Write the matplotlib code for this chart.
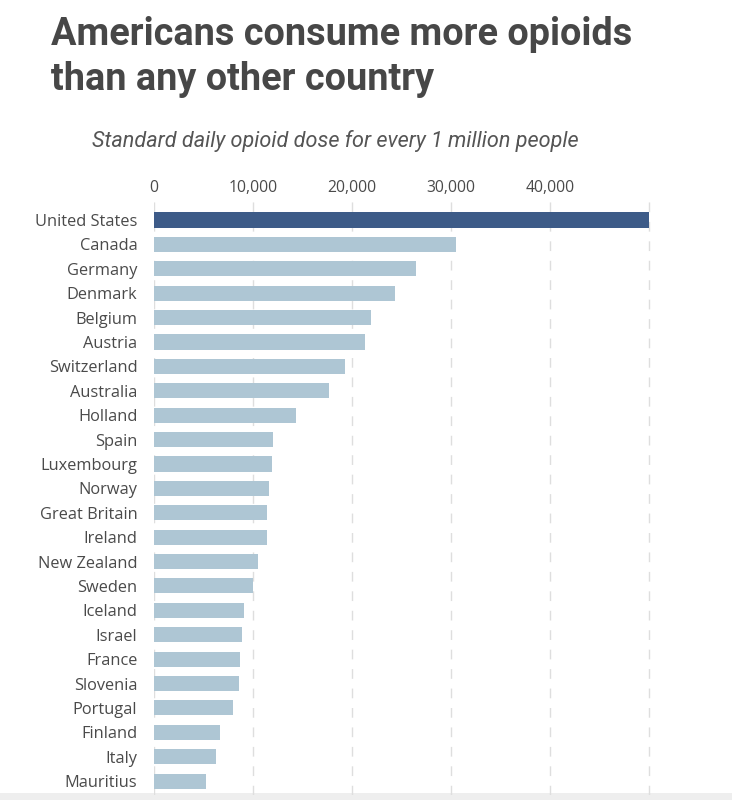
import matplotlib
matplotlib.use("Agg")
import matplotlib.pyplot as plt
from matplotlib.patches import Rectangle

countries = ["United States", "Canada", "Germany", "Denmark", "Belgium", "Austria",
             "Switzerland", "Australia", "Holland", "Spain", "Luxembourg", "Norway",
             "Great Britain", "Ireland", "New Zealand", "Sweden", "Iceland", "Israel",
             "France", "Slovenia", "Portugal", "Finland", "Italy", "Mauritius"]
doses = [50000, 30500, 26500, 24300, 21900, 21300, 19300, 17700, 14300, 12000, 11900,
         11600, 11400, 11450, 10500, 10050, 9070, 8900, 8700, 8600, 8000, 6700, 6300, 5300]
xticks = [0, 10000, 20000, 30000, 40000]
xtick_labels = ["0", "10,000", "20,000", "30,000", "40,000"]
grid_x = [0, 10000, 20000, 30000, 40000, 50000]

title_lines = ["Americans consume more opioids", "than any other country"]
subtitle = "Standard daily opioid dose for every 1 million people"

plt.rcParams['font.family'] = ['Open Sans', 'DejaVu Sans']

fig = plt.figure(figsize=(7.32, 8.0), dpi=100)
fig.patch.set_facecolor("white")

left = 154 / 732
right_px = 154 + 5.2 * 99
ax = fig.add_axes([left, 1 - 795 / 800, (right_px - 154) / 732, (795 - 200) / 800])
ax.set_facecolor("none")

colors = ["#3d5b88"] + ["#aec6d4"] * (len(countries) - 1)
ypos = list(range(len(countries)))
for gx in grid_x:
    ax.axvline(gx, color="#dedede", lw=1.0, ls=(0, (7, 7)), zorder=0)
ax.barh(ypos, doses, height=0.62, color=colors, zorder=2)

ax.set_xlim(0, 52000)
ax.set_ylim(23.57, -0.82)
ax.set_yticks(ypos)
ax.set_yticklabels(countries, fontsize=11.8, color="#4a4a4a")
ax.xaxis.tick_top()
ax.set_xticks(xticks)
ax.set_xticklabels(xtick_labels, fontsize=11.3, color="#4a4a4a")
ax.tick_params(axis="both", length=0)
ax.tick_params(axis="y", pad=12)
ax.tick_params(axis="x", pad=3)
for s in ax.spines.values():
    s.set_visible(False)

for i, line in enumerate(title_lines):
    fig.text(51 / 732, 1 - (45 + 45 * i) / 800, line, fontsize=27.3, fontweight="bold",
             family=["Roboto", "DejaVu Sans"], color="#474747", va="baseline", ha="left")
fig.text(92 / 732, 1 - 147 / 800, subtitle, fontsize=15.6, style="italic",
         family=["Roboto", "DejaVu Sans"],
         color="#555555", va="baseline", ha="left")

fig.patches.append(Rectangle((0, 0), 1, 7 / 800, transform=fig.transFigure,
                             facecolor="#eeeeee", edgecolor="none", zorder=-1))

fig.savefig("out.png", dpi=100)
